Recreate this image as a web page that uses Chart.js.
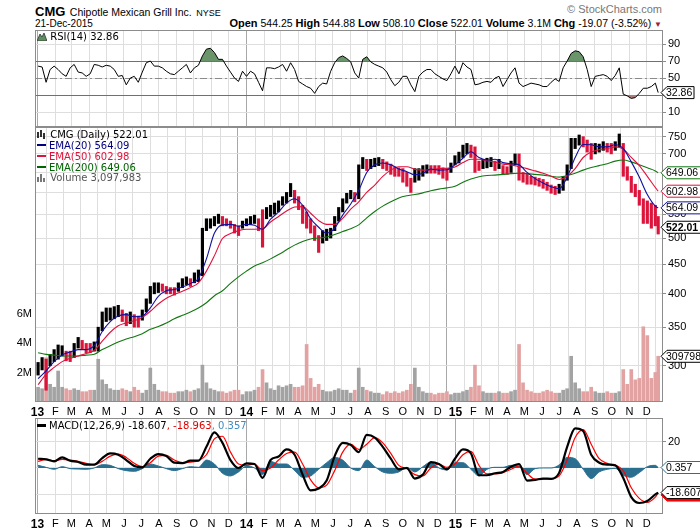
<!DOCTYPE html>
<html>
<head>
<meta charset="utf-8">
<script src="https://cdn.jsdelivr.net/npm/chart.js@4.4.1/dist/chart.umd.min.js"></script>
<style>
  html, body { margin: 0; padding: 0; background: #fff; }
  #wrap { position: relative; width: 700px; height: 530px; overflow: hidden; font-family: "Liberation Sans", Arial, sans-serif; color: #000; }
  canvas { position: absolute; left: 0; }
  .t { position: absolute; white-space: nowrap; line-height: 1; }
  .leg { position: absolute; white-space: nowrap; font-family: "DejaVu Sans", Verdana, sans-serif; font-size: 10px; line-height: 11px; z-index: 2; }
  .dash { display: inline-block; width: 9px; height: 2px; vertical-align: middle; margin: 0 3px 2px 0; }
</style>
</head>
<body>
<div id="wrap">
  <div class="t" style="left:35px;top:3px"><span style="font-size:13px;font-weight:bold">CMG</span> <span style="font-size:10.5px">Chipotle Mexican Grill Inc.</span> <span style="font-size:9px">NYSE</span></div>
  <div class="t" style="left:35px;top:19px;font-size:10px">21-Dec-2015</div>
  <div class="t" style="right:38px;top:18px;font-size:10.5px"><b style="font-size:11px">Open</b> 544.25 <b style="font-size:11px">High</b> 544.88 <b style="font-size:11px">Low</b> 508.10 <b style="font-size:11px">Close</b> 522.01 <b style="font-size:11px">Volume</b> 3.1M <b style="font-size:11px">Chg</b> -19.07 (-3.52%) <span style="color:#a0203a;font-size:8px">&#9660;</span></div>
  <div class="t" style="right:38px;top:4px;font-size:11px;color:#777">&copy; StockCharts.com</div>

  <canvas id="rsi" width="700" height="97" style="top:30px"></canvas>
  <canvas id="price" width="700" height="291" style="top:127px"></canvas>
  <canvas id="macd" width="700" height="112" style="top:418px"></canvas>

  <div class="leg" style="left:37px;top:31px"><svg width="10" height="9" style="vertical-align:-1px"><path d="M0 9 L3 2 L5 5 L7 1 L10 9 Z" fill="#5f8f5f" stroke="#333" stroke-width="0.8"/></svg> RSI(14) 32.86</div>

  <div class="leg" style="left:37px;top:129px"><svg width="10" height="9" style="vertical-align:-1px"><path d="M1 2 V8 M4 0 V7 M7 3 V9" stroke="#000" stroke-width="1.6"/></svg> CMG (Daily) 522.01</div>
  <div class="leg" style="left:37px;top:140px;color:#000080"><span class="dash" style="background:#000080"></span>EMA(20) 564.09</div>
  <div class="leg" style="left:37px;top:151px;color:#dc143c"><span class="dash" style="background:#dc143c"></span>EMA(50) 602.98</div>
  <div class="leg" style="left:37px;top:162px;color:#006400"><span class="dash" style="background:#006400"></span>EMA(200) 649.06</div>
  <div class="leg" style="left:37px;top:172px;color:#555"><svg width="10" height="9" style="vertical-align:-1px"><path d="M1 9 V4 M4 9 V1 M7 9 V5" stroke="#777" stroke-width="2"/></svg> Volume 3,097,983</div>

  <div class="leg" style="left:37px;top:420px"><span class="dash" style="background:#000;height:3px"></span>MACD(12,26,9) -18.607<span style="color:#e00000">, -18.963</span><span style="color:#3b8ec2">, 0.357</span></div>
</div>

<script>
// ---- month ticks (Jan 2013 .. Dec 2015) ----
const tickLabels = ['13','F','M','A','M','J','J','A','S','O','N','D',
                    '14','F','M','A','M','J','J','A','S','O','N','D',
                    '15','F','M','A','M','J','J','A','S','O','N','D'];
const monthDays = tickLabels.map((_, i) =>
  (Date.UTC(2013 + Math.floor(i / 12), i % 12, 1) - Date.UTC(2013, 0, 1)) / 864e5);

// ---- weekly price range (one bar per week, Jan 2013 .. 21 Dec 2015) ----
const wkLow = [
  289,295,272,300,305,308,312,306,305,310,322,320,316,316,318,318,345,358,360,362,
  365,358,352,355,350,350,360,372,385,400,402,404,400,400,398,404,410,415,412,418,
  420,430,515,520,525,530,525,525,520,510,505,520,
  525,528,530,515,482,540,545,550,555,570,575,590,575,560,530,520,510,495,472,490,
  495,500,515,535,555,575,585,578,585,660,655,660,665,668,660,655,645,640,640,625,
  615,600,625,630,640,648,648,648,645,635,630,650,
  670,675,690,700,690,650,655,660,662,665,655,660,645,645,650,670,630,625,620,620,
  618,615,610,605,598,595,598,605,630,660,715,725,720,705,685,700,705,710,705,700,
  710,720,640,630,600,590,570,530,530,520,525,508];
const wkHigh = [
  304,310,308,314,320,326,325,318,318,328,336,332,328,328,330,350,372,378,378,380,
  382,375,370,372,368,366,375,392,412,418,418,416,412,410,410,418,425,428,425,435,
  440,520,540,540,545,550,545,540,535,528,525,535,
  540,545,548,540,560,565,570,575,580,590,600,622,605,590,570,555,540,525,505,515,
  518,520,545,565,585,598,605,600,670,690,685,685,688,690,685,678,672,665,662,660,
  650,635,660,660,668,670,668,668,668,662,660,675,
  695,705,725,730,725,720,680,685,688,690,680,685,668,665,680,700,700,650,645,640,
  638,635,632,625,618,615,620,640,670,745,745,755,750,740,730,730,728,735,730,730,
  735,758,730,665,640,620,605,585,580,575,570,545];
// weekly volume, millions
const wkVol = [
  1.0,0.9,3.0,1.2,1.0,2.1,1.0,0.9,0.8,0.9,0.8,0.7,0.7,0.8,0.8,2.9,1.5,1.2,0.9,0.8,
  0.8,0.9,0.8,0.7,1.0,0.8,0.6,0.8,2.3,1.2,0.8,0.7,0.7,0.6,0.6,0.7,0.7,0.8,0.7,0.8,
  0.9,2.5,1.3,0.9,0.8,0.7,0.7,0.6,0.7,0.8,0.8,0.5,
  0.7,0.7,0.8,1.0,2.2,1.3,0.9,0.8,1.1,1.0,1.1,1.2,1.0,1.0,1.1,3.9,1.6,1.0,1.2,0.8,
  0.7,0.7,0.8,0.9,0.8,0.8,0.6,0.8,2.3,1.0,0.8,0.7,0.6,0.6,0.5,0.7,0.6,0.7,0.6,0.7,
  0.8,1.2,2.3,1.0,0.7,0.6,0.6,0.5,0.6,0.6,0.7,0.5,
  0.6,0.6,0.7,0.8,1.0,2.5,1.1,0.7,0.6,0.6,0.6,0.7,0.6,0.6,0.7,0.8,3.9,1.3,0.8,0.7,
  0.6,0.6,0.7,0.8,0.7,0.6,0.6,0.8,0.9,3.1,1.3,0.9,0.7,0.7,1.0,0.7,0.6,0.6,0.7,0.6,
  0.6,0.7,2.2,1.2,2.2,1.5,1.6,5.1,4.5,1.6,2.0,3.1];
// weekly RSI(14)
const wkRsi = [
  64,63,45,60,64,60,55,52,62,66,57,56,52,55,66,65,63,65,64,60,
  52,53,42,50,52,45,57,68,70,64,64,62,58,55,54,58,62,66,56,62,
  65,76,84,85,80,72,72,64,57,50,46,58,
  52,58,55,45,35,62,62,61,63,66,58,68,60,46,43,40,38,32,40,44,
  43,58,68,74,76,73,69,56,50,72,75,69,66,64,62,57,48,41,45,52,
  52,42,34,52,57,60,60,55,52,49,47,55,
  64,55,68,63,60,42,43,45,46,45,50,52,40,48,56,62,44,40,42,44,
  43,42,40,40,45,49,46,62,70,79,82,81,75,60,40,52,53,54,52,47,
  53,62,31,29,26,27,32,38,38,40,44,32.86];

// ---- two-weekly overlay values (last entry = 21 Dec 2015) ----
const ema20 = [
  285,294,305,313,317,320,320,325,344,358,366,368,365,366,378,396,405,407,411,417,
  425,460,510,527,528,524,528,526,518,539,555,575,585,570,540,522,510,520,548,573,
  605,650,670,675,670,659,652,644,648,659,656,657,670,688,706,690,683,685,676,673,
  670,650,634,623,614,609,638,690,727,726,720,720,726,715,678,638,595,568,564.09];
const ema50 = [
  278,290,298,305,309,312,315,319,331,343,352,356,359,364,373,384,393,399,404,410,
  418,438,466,499,509,515,518,518,519,533,545,557,566,567,552,536,528,528,541,561,
  578,600,618,640,656,665,665,658,656,656,660,661,664,676,685,685,681,677,672,670,
  665,660,654,648,640,632,640,660,690,705,712,715,720,714,690,668,640,612,602.98];
const ema200 = [
  316,314,313,312,312,312,313,314,320,325,330,334,337,341,347,351,356,362,367,372,
  378,386,397,405,417,428,438,447,453,460,468,477,486,493,498,500,502,507,513,519,
  527,542,556,568,578,587,592,595,599,604,608,611,615,625,633,639,642,643,645,647,
  648,647,645,643,640,638,642,648,656,663,668,673,680,683,678,670,662,654,649.06];
const macdLine = [
  7,6.5,5,8,5.5,4.5,2.5,2.5,7.5,11,10,6,1.5,0.5,7,10.5,9,4,3.7,5.5,
  5.5,16,27,19,6,0,3.5,3,-7.5,6,8.7,14,10,-5,-17,-15.5,-9.5,9,19,17.5,
  12,25,23,16,7,-1,0,-8,-5,4.5,3,-1,7,14,11,-5.5,-5.5,-4,-3,1,
  3,-9.5,-9,-8,-8.2,-3.7,16,30,28,10,4,2.5,2,-7.5,-22,-26.5,-25,-20,-18.607];
const signalLine = [
  5,6.5,5.5,6.5,6,5,3.5,2.5,5,9,10.5,8,3.5,1,4,9,9.5,6,4,4.5,
  5.5,10,22,24,12,3,2,3,-2,0,6,11,12,3,-9,-15,-13,-2,12,18,
  14,18,23,19,11,2,-0.5,-5,-6,0,3,0.5,3,10,12.5,2,-4.5,-4.5,-3.5,-1,
  1.5,-4,-8.5,-8.2,-8.2,-6,6,23,29,18,7,3.5,2.3,-2,-15,-23,-26,-22,-18.963];
const macdHist = [
  2,0.5,-1,1,-0.5,-0.8,-1,0,2.5,2,-0.5,-2,-2.5,-0.5,3,1.5,-0.5,-2,-0.5,1,
  0.5,6,3,-4,-6,-3,1.5,0,-5,5,3,3,-2,-7,-6,-1,4,8,6,0,
  -2,6,1,-3,-4,-3,0.5,-3,1,4.5,0,-1.5,4,4,-1,-6,-1,0.5,0.5,2,
  1.5,-5,-0.5,0,0,2.3,8,7,-1,-8,-3,-1,-0.3,-5.5,-7,-3.5,1,2,0.357];

const priceTicks = [300, 350, 400, 450, 500, 550, 600, 650, 700, 750];
const volTicks = [2, 4, 6];
const rsiTicks = [10, 30, 50, 70, 90];
const macdTicks = [-20, 0, 20];

// days since 1 Jan 2013
const wkDay = i => Math.min(1 + 7 * i, 1084);
const bwDay = k => (k < 78 ? 1 + 14 * k : 1084);
const weekly = arr => arr.map((v, i) => ({ x: wkDay(i), y: v }));
const biweekly = arr => arr.map((v, k) => ({ x: bwDay(k), y: v }));
const wkUp = wkHigh.map((h, i) => i === 0 || h + wkLow[i] > wkHigh[i - 1] + wkLow[i - 1]);

const FONT = '"Liberation Sans", Arial, sans-serif';
const X_MIN = -4.4, X_MAX = 1092.4;

function xAxis(showLabels) {
  return {
    type: 'linear', min: X_MIN, max: X_MAX, offset: false,
    afterBuildTicks: s => { s.ticks = monthDays.map(v => ({ value: v })); },
    afterFit: s => { s.height = showLabels ? 16 : 0; s.paddingLeft = 0; s.paddingRight = 0; },
    grid: { color: c => (c.index % 12 === 0 ? '#a8a8a8' : '#dedede'), drawTicks: false, lineWidth: 1 },
    border: { display: false },
    ticks: {
      display: showLabels, autoSkip: false, maxRotation: 0, padding: 3, color: '#000',
      font: c => ({ family: FONT, size: c.index % 12 === 0 ? 12 : 11, weight: c.index % 12 === 0 ? 'bold' : 'normal' }),
      callback: (v, i) => tickLabels[i]
    }
  };
}

function rightAxis(extra) {
  return Object.assign({
    position: 'right',
    afterFit: s => { s.width = 37; s.paddingTop = 0; s.paddingBottom = 0; },
    grid: { color: '#dedede', drawTicks: true, tickLength: 3, tickColor: '#8c8c8c' },
    border: { display: false },
    ticks: { color: '#000', padding: 2, font: { family: FONT, size: 11 }, callback: v => String(v) }
  }, extra);
}

function drawTag(ctx, y, t) {
  const x = 661, h = 12, w = t.w || 44;
  ctx.save();
  ctx.beginPath();
  ctx.moveTo(x, y);
  ctx.lineTo(x + 6, y - h / 2);
  ctx.lineTo(x + w, y - h / 2);
  ctx.lineTo(x + w, y + h / 2);
  ctx.lineTo(x + 6, y + h / 2);
  ctx.closePath();
  ctx.fillStyle = t.bg || '#ffffff';
  ctx.fill();
  ctx.strokeStyle = t.edge;
  ctx.lineWidth = 1;
  ctx.stroke();
  if (t.label) {
    ctx.fillStyle = '#000';
    ctx.font = (t.bold ? 'bold ' : '') + '10.5px ' + FONT;
    ctx.textAlign = 'left';
    ctx.textBaseline = 'middle';
    ctx.fillText(t.label, x + 5, y + 0.5);
  }
  ctx.restore();
}

// panel frame, reference lines and value tags (plain closure, not chart options)
function makeDeco(cfg) {
  return {
    id: 'deco',
    beforeDatasetsDraw(chart) {
      const { ctx, chartArea: a } = chart;
      (cfg.lines || []).forEach(l => {
        const y = Math.round(chart.scales[l.axis].getPixelForValue(l.v)) + 0.5;
        ctx.save();
        ctx.strokeStyle = l.edge;
        ctx.lineWidth = 1;
        ctx.setLineDash(l.dash || []);
        ctx.beginPath();
        ctx.moveTo(a.left, y);
        ctx.lineTo(a.right, y);
        ctx.stroke();
        ctx.restore();
      });
    },
    afterDraw(chart) {
      const { ctx, chartArea: a } = chart;
      ctx.save();
      ctx.strokeStyle = '#8c8c8c';
      ctx.lineWidth = 1;
      ctx.strokeRect(Math.round(a.left) + 0.5, Math.round(a.top) + 0.5,
                     Math.round(a.right - a.left) - 1, Math.round(a.bottom - a.top) - 1);
      ctx.restore();
      (cfg.tags || []).forEach(t =>
        drawTag(ctx, chart.scales[t.axis].getPixelForValue(t.v) + (t.dy || 0), t));
    }
  };
}

const common = {
  responsive: false,
  animation: false,
  plugins: { legend: { display: false }, tooltip: { enabled: false } }
};

// ---- RSI panel ----
new Chart(document.getElementById('rsi'), {
  type: 'line',
  data: {
    datasets: [
      { data: weekly(wkRsi), borderColor: '#000', borderWidth: 1, pointRadius: 0,
        fill: { target: { value: 70 }, above: '#6a946a', below: 'rgba(0,0,0,0)' } },
      { data: weekly(wkRsi), borderColor: 'rgba(0,0,0,0)', borderWidth: 0, pointRadius: 0,
        fill: { target: { value: 30 }, above: 'rgba(0,0,0,0)', below: '#b07878' } }
    ]
  },
  options: Object.assign({}, common, {
    layout: { padding: { left: 35 } },
    scales: {
      x: xAxis(false),
      y: rightAxis({ min: -7.6, max: 106.5, afterBuildTicks: s => { s.ticks = rsiTicks.map(v => ({ value: v })); } })
    }
  }),
  plugins: [makeDeco({
    lines: [
      { axis: 'y', v: 70, edge: '#707070' },
      { axis: 'y', v: 30, edge: '#707070' },
      { axis: 'y', v: 50, edge: '#8a8a8a', dash: [7, 3, 2, 3] }
    ],
    tags: [{ axis: 'y', v: 32.86, label: '32.86', edge: '#000', w: 33 }]
  })]
});

// ---- price + volume panel ----
new Chart(document.getElementById('price'), {
  type: 'bar',
  data: {
    datasets: [
      { type: 'line', data: biweekly(ema20), borderColor: '#1010a0', borderWidth: 1.1, pointRadius: 0,
        cubicInterpolationMode: 'monotone', yAxisID: 'y', order: 0 },
      { type: 'line', data: biweekly(ema50), borderColor: '#e0103c', borderWidth: 1.1, pointRadius: 0,
        cubicInterpolationMode: 'monotone', yAxisID: 'y', order: 0 },
      { type: 'line', data: biweekly(ema200), borderColor: '#117711', borderWidth: 1.1, pointRadius: 0,
        cubicInterpolationMode: 'monotone', yAxisID: 'y', order: 0 },
      { type: 'bar', data: wkHigh.map((h, i) => ({ x: wkDay(i), y: [wkLow[i], h] })), yAxisID: 'y',
        backgroundColor: wkUp.map(u => (u ? '#000' : '#dc143c')), barThickness: 2.5, grouped: false, order: 1 },
      { type: 'bar', data: weekly(wkVol), yAxisID: 'yv',
        backgroundColor: wkUp.map(u => (u ? '#a3a3a3' : '#e3a2a2')), barThickness: 3, grouped: false, order: 2 }
    ]
  },
  options: Object.assign({}, common, {
    scales: {
      x: xAxis(true),
      y: rightAxis({ type: 'logarithmic', min: 259.5, max: 779.5,
        afterBuildTicks: s => { s.ticks = priceTicks.map(v => ({ value: v })); } }),
      yv: {
        type: 'linear', position: 'left', min: 0, max: 18.64,
        afterBuildTicks: s => { s.ticks = volTicks.map(v => ({ value: v })); },
        afterFit: s => { s.width = 35; s.paddingTop = 0; s.paddingBottom = 0; },
        grid: { display: false, drawTicks: false },
        border: { display: false },
        ticks: { color: '#000', padding: 3, font: { family: FONT, size: 11 }, callback: v => v + 'M' }
      }
    }
  }),
  plugins: [makeDeco({
    tags: [
      { axis: 'y', v: 649.06, label: '649.06', edge: '#117711' },
      { axis: 'y', v: 602.98, label: '602.98', edge: '#e0103c' },
      { axis: 'y', v: 564.09, label: '564.09', edge: '#1010a0' },
      { axis: 'y', v: 522.01, label: '522.01', edge: '#000', bold: true },
      { axis: 'yv', v: 3.097983, label: '309798', edge: '#000' }
    ]
  })]
});

// ---- MACD panel ----
new Chart(document.getElementById('macd'), {
  type: 'line',
  data: {
    datasets: [
      { data: biweekly(macdLine), borderColor: '#000', borderWidth: 2.2, pointRadius: 0,
        cubicInterpolationMode: 'monotone', order: 0 },
      { data: biweekly(signalLine), borderColor: '#ff0000', borderWidth: 1.2, pointRadius: 0,
        cubicInterpolationMode: 'monotone', order: 1 },
      { data: biweekly(macdHist), borderColor: '#2a6f90', borderWidth: 1, pointRadius: 0,
        backgroundColor: '#2a6f90', fill: 'origin', cubicInterpolationMode: 'monotone', order: 2 }
    ]
  },
  options: Object.assign({}, common, {
    layout: { padding: { left: 35 } },
    scales: {
      x: xAxis(true),
      y: rightAxis({ min: -34.8, max: 37.8, afterBuildTicks: s => { s.ticks = macdTicks.map(v => ({ value: v })); } })
    }
  }),
  plugins: [makeDeco({
    tags: [
      { axis: 'y', v: 0.357, label: '0.357', edge: '#2a6f90', w: 40 },
      { axis: 'y', v: -18.963, dy: 2, edge: '#ff0000', bg: '#ff0000' },
      { axis: 'y', v: -18.607, label: '-18.607', edge: '#000' }
    ]
  })]
});
</script>
</body>
</html>
